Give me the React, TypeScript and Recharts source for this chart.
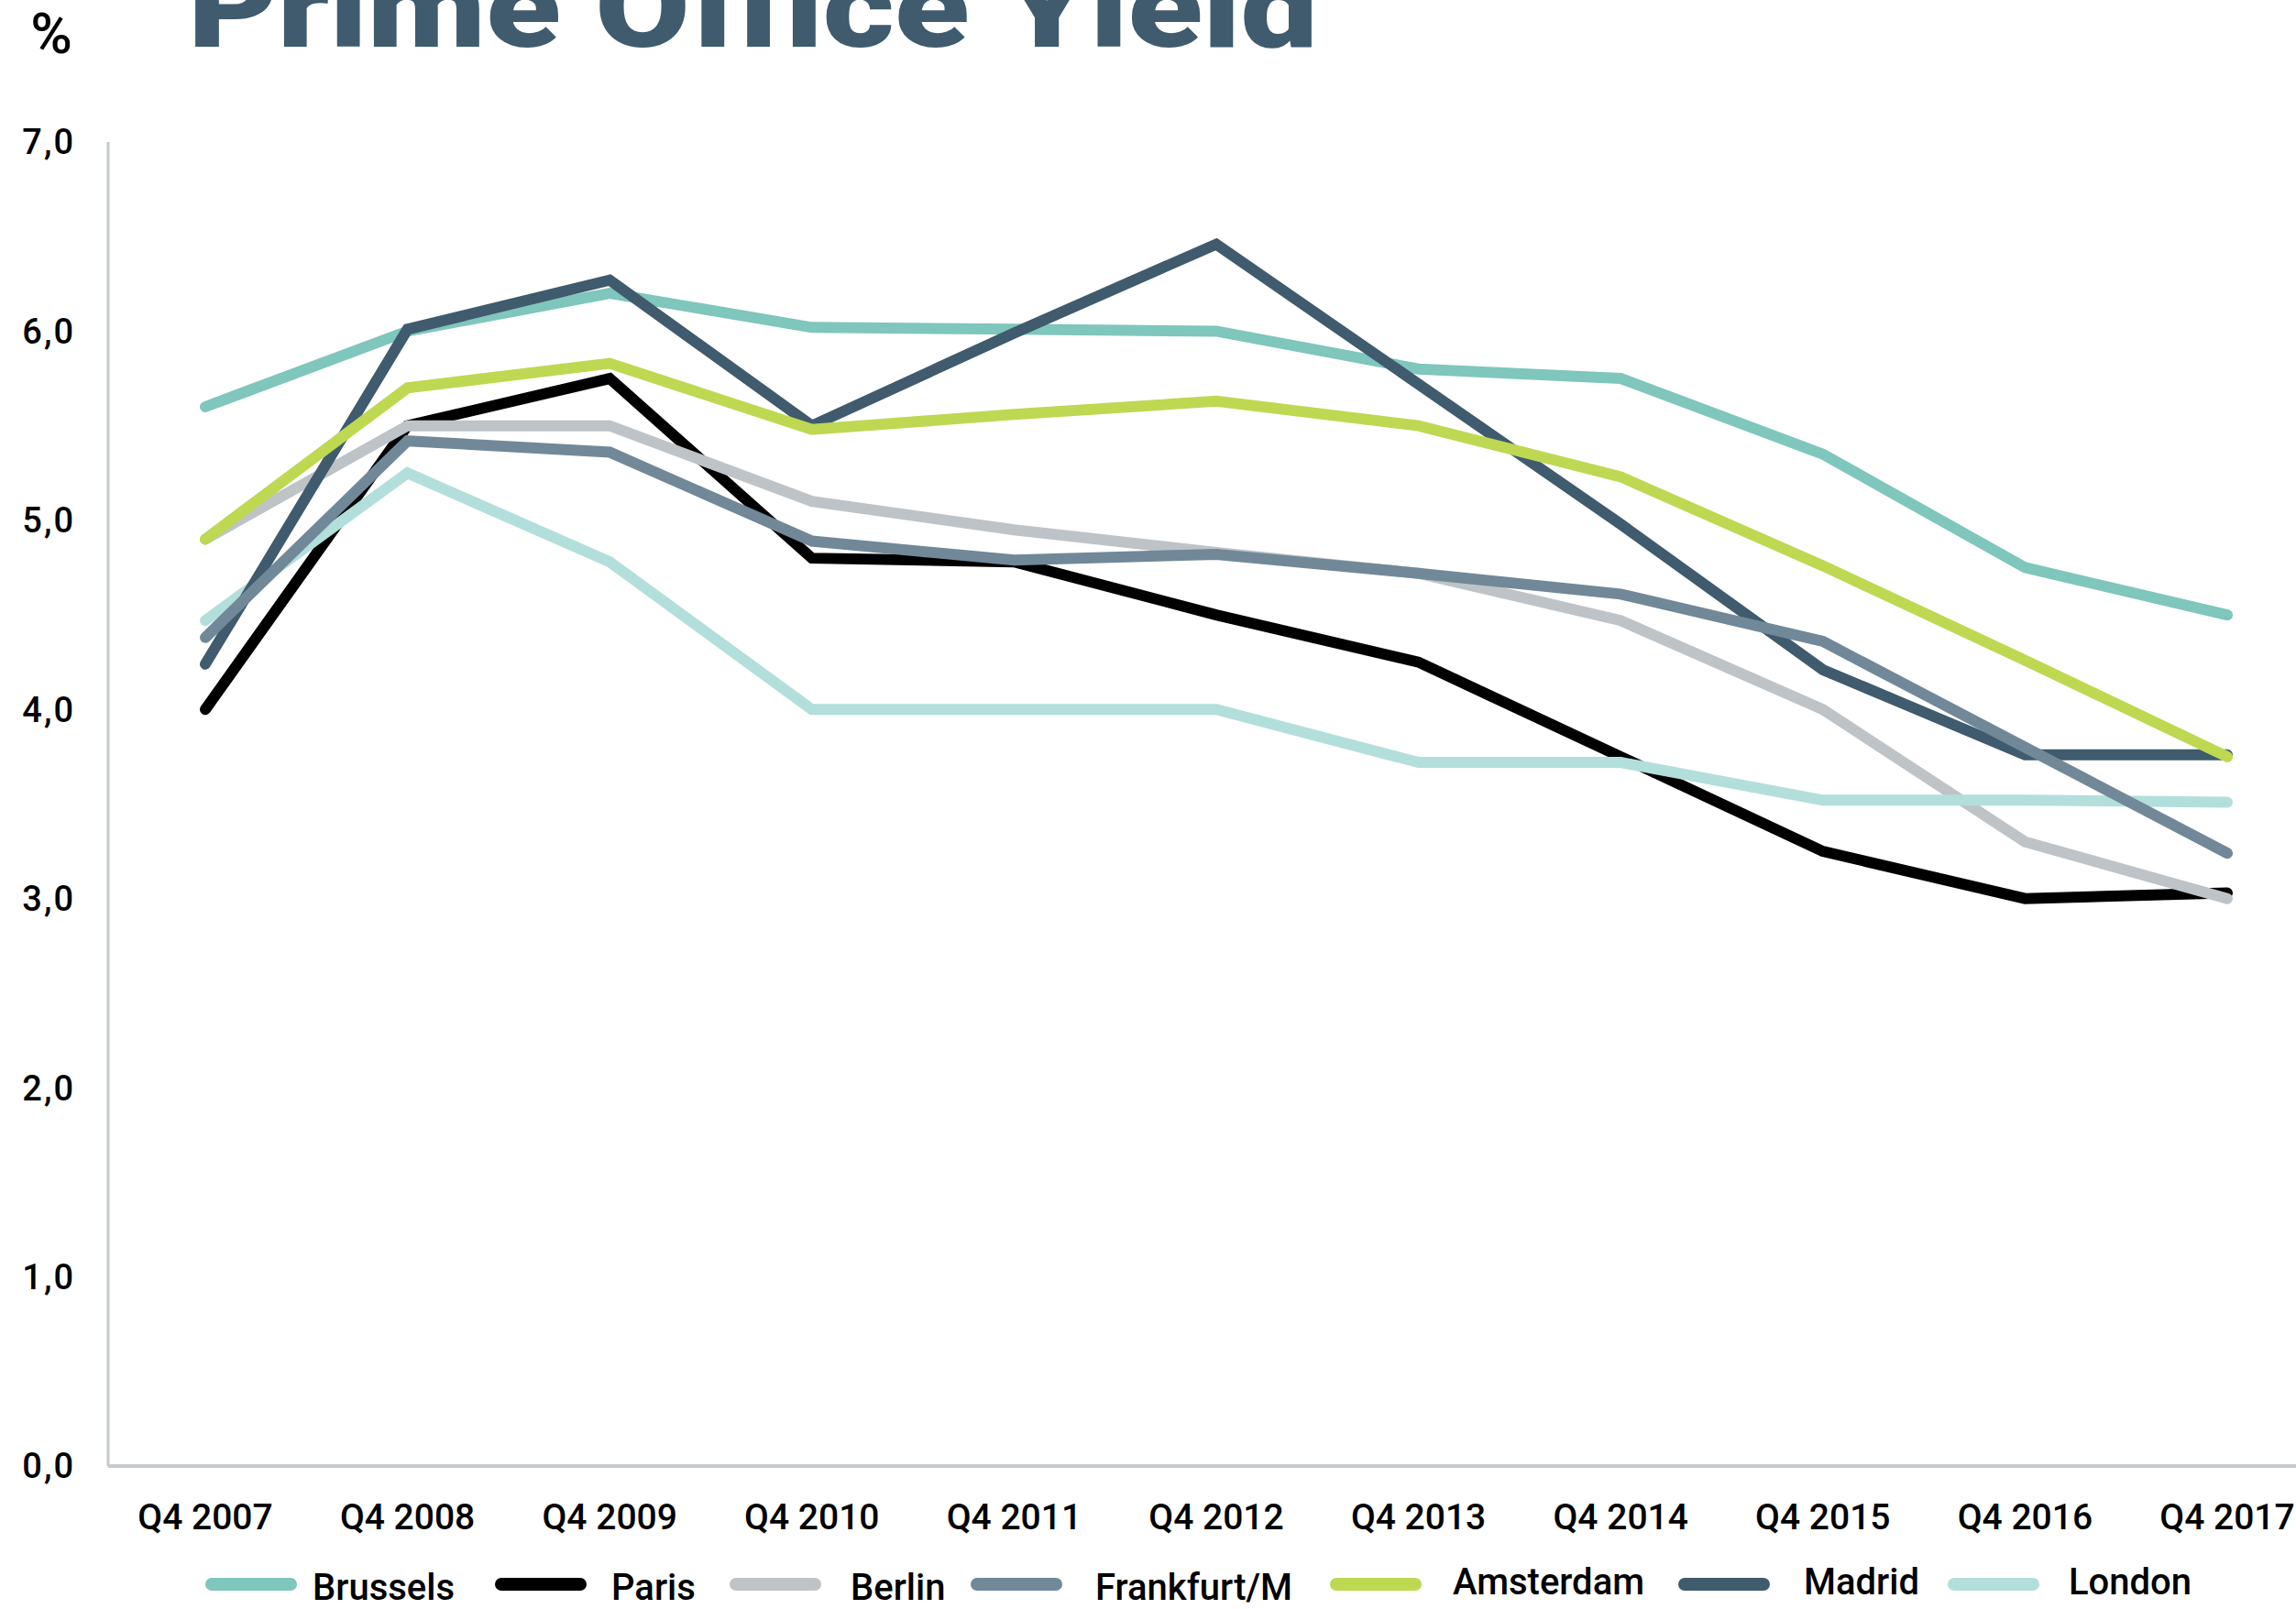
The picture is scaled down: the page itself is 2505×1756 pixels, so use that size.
import { LineChart, Line, XAxis, YAxis, Legend } from 'recharts';

const CATEGORIES = [
  'Q4 2007', 'Q4 2008', 'Q4 2009', 'Q4 2010', 'Q4 2011', 'Q4 2012',
  'Q4 2013', 'Q4 2014', 'Q4 2015', 'Q4 2016', 'Q4 2017',
];

const BRUSSELS = [5.6, 6.0, 6.2, 6.02, 6.01, 6.0, 5.8, 5.75, 5.35, 4.75, 4.5];
const PARIS = [4.0, 5.5, 5.75, 4.8, 4.78, 4.5, 4.25, 3.75, 3.25, 3.0, 3.03];
const BERLIN = [4.9, 5.5, 5.5, 5.1, 4.95, 4.83, 4.72, 4.47, 4.0, 3.3, 3.0];
const FRANKFURT = [4.38, 5.42, 5.36, 4.89, 4.79, 4.82, 4.72, 4.61, 4.36, 3.8, 3.24];
const AMSTERDAM = [4.9, 5.7, 5.83, 5.48, 5.56, 5.63, 5.5, 5.23, 4.76, 4.26, 3.75];
const MADRID = [4.24, 6.01, 6.27, 5.5, 5.99, 6.46, 5.72, 4.98, 4.21, 3.76, 3.76];
const LONDON = [4.47, 5.25, 4.78, 4.0, 4.0, 4.0, 3.72, 3.72, 3.52, 3.52, 3.51];

const Y_TICKS = [0, 1, 2, 3, 4, 5, 6, 7];

// legend order (as in the reference)
const SERIES = [
  { key: 'Brussels', values: BRUSSELS, color: '#7fc6bc' },
  { key: 'Paris', values: PARIS, color: '#000000' },
  { key: 'Berlin', values: BERLIN, color: '#bec3c7' },
  { key: 'Frankfurt/M', values: FRANKFURT, color: '#718898' },
  { key: 'Amsterdam', values: AMSTERDAM, color: '#bed852' },
  { key: 'Madrid', values: MADRID, color: '#3f5b6d' },
  { key: 'London', values: LONDON, color: '#b2dfdb' },
];

// paint order (last one on top)
const DRAW_ORDER = ['Brussels', 'Paris', 'Berlin', 'London', 'Madrid', 'Frankfurt/M', 'Amsterdam'];

// legend layout: swatch left / label left / label top, px
const LEGEND_SWATCH_X = [224, 540, 796, 1059, 1451, 1831, 2125];
const LEGEND_LABEL_X = [341, 667, 928, 1195, 1585, 1968, 2257];
const LEGEND_LABEL_TOP = [1, 1, 1, 1, -5, -5, -5];

const data = CATEGORIES.map((cat, i) => {
  const row: Record<string, string | number> = { cat };
  SERIES.forEach(s => {
    row[s.key] = s.values[i];
  });
  return row;
});

const FONT = 'Roboto, "Noto Sans", sans-serif';
const AXIS_GREY = '#c5cace';

const W = 2505;
const H = 1756;

function LegendContent() {
  return (
    <div
      style={{
        position: 'relative',
        height: 44,
        fontFamily: FONT,
        fontSize: 40,
        fontWeight: 500,
        color: '#000',
        whiteSpace: 'nowrap',
      }}
    >
      {SERIES.map((s, i) => (
        <div key={s.key}>
          <span
            style={{
              position: 'absolute',
              left: LEGEND_SWATCH_X[i],
              top: 10,
              width: 100,
              height: 14,
              borderRadius: 7,
              background: s.color,
            }}
          />
          <span
            style={{
              position: 'absolute',
              left: LEGEND_LABEL_X[i],
              top: LEGEND_LABEL_TOP[i],
              lineHeight: '40px',
            }}
          >
            {s.key}
          </span>
        </div>
      ))}
    </div>
  );
}

export default function App() {
  return (
    <div
      style={{
        position: 'absolute',
        left: 0,
        top: 0,
        width: W,
        height: H,
        background: '#fff',
        overflow: 'hidden',
        fontFamily: FONT,
      }}
    >
      <LineChart
        width={W}
        height={H}
        data={data}
        margin={{ top: 155, right: 0, bottom: 0, left: 0 }}
      >
        <XAxis
          dataKey="cat"
          padding={{ left: 106, right: 75 }}
          axisLine={{ stroke: AXIS_GREY, strokeWidth: 4 }}
          tickLine={false}
          tickSize={0}
          tickMargin={41}
          height={112}
          interval={0}
          tick={{ fontSize: 39, fontWeight: 500, fill: '#000', fontFamily: FONT }}
        />
        <YAxis
          domain={[0, 7]}
          ticks={Y_TICKS}
          width={118}
          axisLine={{ stroke: AXIS_GREY, strokeWidth: 3 }}
          tickLine={false}
          tickSize={0}
          tickMargin={36}
          tickFormatter={(v: number) => v.toFixed(1).replace('.', ',')}
          tick={{ fontSize: 38, fontWeight: 500, fill: '#000', fontFamily: FONT, letterSpacing: 2 }}
        />
        <Legend
          verticalAlign="bottom"
          height={44}
          wrapperStyle={{ left: 0, bottom: 0, width: W, height: 44 }}
          content={<LegendContent />}
        />
        {DRAW_ORDER.map(k => {
          const s = SERIES.find(x => x.key === k)!;
          return (
            <Line
              key={s.key}
              type="linear"
              dataKey={s.key}
              stroke={s.color}
              strokeWidth={12}
              strokeLinecap="round"
              dot={false}
              activeDot={false}
              isAnimationActive={false}
              legendType="line"
            />
          );
        })}
      </LineChart>

      <svg
        width={W}
        height={120}
        style={{ position: 'absolute', left: 0, top: 0, pointerEvents: 'none' }}
      >
        <text x={56} y={58} textAnchor="middle" fontFamily={FONT} fontWeight={500} fontSize={62} fill="#000">
          %
        </text>
        <text
          x={205}
          y={51}
          fontFamily={FONT}
          fontWeight={900}
          fontSize={125}
          fill="#3f5b6d"
          textLength={1233}
          lengthAdjust="spacingAndGlyphs"
        >
          Prime Office Yield
        </text>
      </svg>
    </div>
  );
}
